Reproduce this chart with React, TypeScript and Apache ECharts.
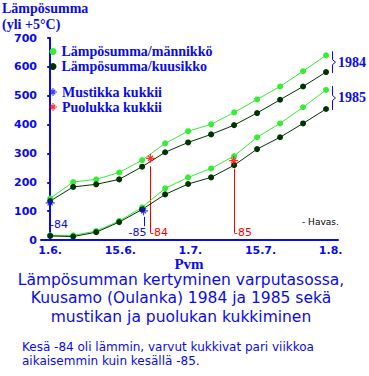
import React, { useEffect, useRef } from "react";
import * as echarts from "echarts";

// ---- data ----
const days = [0, 5, 10, 15, 20, 25, 30, 35, 40, 45, 50, 55, 60];
const mannikko84 = [144, 201, 210, 234, 277, 335, 377, 401, 442, 487, 532, 585, 640];
const kuusikko84 = [135, 184, 193, 210, 254, 304, 338, 366, 398, 440, 486, 532, 582];
const mannikko85 = [16, 16, 31, 66, 113, 179, 217, 248, 291, 356, 404, 460, 520];
const kuusikko85 = [14, 12, 27, 62, 106, 158, 194, 217, 259, 315, 356, 404, 454];

const mustikkaPoints = [
  [0, 129],
  [20.3, 101],
];
const puolukkaPoints = [
  [21.8, 283],
  [39.9, 275],
];
const flowerLabels = ["-84", "-85"];
const flowerLineEnd = [
  [52, 48],
  [25, 25],
];

const xTickDays = [0, 15.25, 30.5, 45.75, 61];
const xTickLabels = ["1.6.", "15.6.", "1.7.", "15.7.", "1.8."];
const yTicks = [0, 100, 200, 300, 400, 500, 600, 700];

const seriesNames = [
  "Lämpösumma/männikkö",
  "Lämpösumma/kuusikko",
  "Mustikka kukkii",
  "Puolukka kukkii",
];
const yearLabels = ["1984", "1985"];

const BLUE = "#0a0aee";
const LIGHT = "#33ee33";
const DARK = "#003300";
const RED = "#ff0000";
const SERIF = "'Liberation Serif', 'DejaVu Serif', serif";
const SANS = "'DejaVu Sans', sans-serif";

const ASTERISK =
  "path://M4.3,0h1.4v10h-1.4z M0,4.3h10v1.4h-10z M2.665,1.675L8.325,7.335L7.335,8.325L1.675,2.665z M1.675,7.335L7.335,1.675L8.325,2.665L2.665,8.325z";

const pair = (ys: number[]) => days.map((d, i) => [d, ys[i]]);

export default function App() {
  const ref = useRef<HTMLDivElement>(null);
  useEffect(() => {
    const chart = echarts.init(ref.current!, undefined, { renderer: "svg" });
    const lineSeries = (name: string, data: number[], color: string) => ({
      type: "line",
      name,
      data: pair(data),
      symbol: "circle",
      symbolSize: 6,
      showSymbol: true,
      lineStyle: { color, width: 1 },
      itemStyle: { color },
    });
    const option: any = {
      animation: false,
      backgroundColor: "#ffffff",
      grid: { left: 41, top: 38, right: 31, bottom: 136 },
      xAxis: {
        type: "value",
        min: -2,
        max: 62.6,
        splitLine: { show: false },
        axisLine: { lineStyle: { color: BLUE, width: 2 } },
        axisTick: { show: false },
        axisLabel: {
          customValues: xTickDays,
          formatter: (v: number) => {
            let best = 0;
            xTickDays.forEach((d, i) => {
              if (Math.abs(d - v) < Math.abs(xTickDays[best] - v)) best = i;
            });
            return xTickLabels[best];
          },
          color: BLUE,
          fontFamily: SANS,
          fontWeight: "bold",
          fontSize: 11,
          lineHeight: 10,
          margin: 5,
        },
      },
      yAxis: {
        type: "value",
        min: 0,
        max: 700,
        interval: 100,
        splitLine: { show: false },
        axisLine: { show: true, lineStyle: { color: BLUE, width: 2 } },
        axisTick: { show: true, length: 3, lineStyle: { color: BLUE, width: 2 } },
        axisLabel: {
          formatter: (v: number) => (yTicks.includes(v) ? String(v) : ""),
          color: BLUE,
          fontFamily: SANS,
          fontWeight: "bold",
          fontSize: 11,
          margin: 4,
        },
      },
      legend: [
        {
          data: [
            { name: seriesNames[0], icon: "circle" },
            { name: seriesNames[1], icon: "circle" },
          ],
          orient: "vertical",
          left: 49.5,
          top: 44,
          padding: 0,
          itemGap: 0,
          itemWidth: 7,
          itemHeight: 7,
          selectedMode: false,
          textStyle: { color: BLUE, fontFamily: SERIF, fontWeight: "bold", fontSize: 14, lineHeight: 15 },
        },
        {
          data: [
            { name: seriesNames[2], icon: ASTERISK },
            { name: seriesNames[3], icon: ASTERISK },
          ],
          orient: "vertical",
          left: 49,
          top: 84.5,
          padding: 0,
          itemGap: 0,
          itemWidth: 8,
          itemHeight: 8,
          selectedMode: false,
          textStyle: { color: BLUE, fontFamily: SERIF, fontWeight: "bold", fontSize: 14, lineHeight: 15 },
        },
      ],
      series: [
        lineSeries(seriesNames[0], mannikko84, LIGHT),
        lineSeries(seriesNames[1], kuusikko84, DARK),
        { ...lineSeries(seriesNames[0], mannikko85, LIGHT) },
        { ...lineSeries(seriesNames[1], kuusikko85, DARK) },
        {
          type: "scatter",
          name: seriesNames[2],
          data: mustikkaPoints,
          symbol: ASTERISK,
          symbolSize: 9,
          itemStyle: { color: BLUE },
          z: 5,
        },
        {
          type: "scatter",
          name: seriesNames[3],
          data: puolukkaPoints,
          symbol: ASTERISK,
          symbolSize: 9,
          itemStyle: { color: RED },
          z: 5,
        },
      ],
    };
    chart.setOption(option);

    const px = (p: number[]) => chart.convertToPixel({ gridIndex: 0 }, p) as number[];
    const graphics: any[] = [];
    const txt = (text: string, x: number, y: number, style: any, extra: any = {}) =>
      graphics.push({
        type: "text",
        x,
        y,
        style: { text, fill: BLUE, textVerticalAlign: "middle", verticalAlign: "middle", ...style },
        ...extra,
      });

    // axis name & titles
    txt("Lämpösumma", 2, 8, { font: `bold 14px ${SERIF}`, lineHeight: 14 });
    txt("(yli +5°C)", 2, 24, { font: `bold 14px ${SERIF}`, lineHeight: 14 });
    txt("Pvm", 189, 264, { font: `bold 15px ${SERIF}`, textAlign: "center", align: "center", lineHeight: 12 });
    const titleLines = [
      "Lämpösumman kertyminen varputasossa,",
      "Kuusamo (Oulanka) 1984 ja 1985 sekä",
      "mustikan ja puolukan kukkiminen",
    ];
    const titleY = [280, 298.3, 316.6];
    titleLines.forEach((t, i) =>
      txt(t, 181, titleY[i], { font: `15.5px ${SANS}`, textAlign: "center", align: "center", lineHeight: 16 })
    );
    const noteLines = [
      "Kesä -84 oli lämmin, varvut kukkivat pari viikkoa",
      "aikaisemmin kuin kesällä -85.",
    ];
    const noteY = [346.5, 361];
    noteLines.forEach((t, i) => txt(t, 22, noteY[i], { font: `12px ${SANS}`, lineHeight: 13 }));
    txt("- Havas.", 302, 222, { font: `9px ${SANS}`, fill: "#000000" });

    // year brackets
    const lastIdx = days.length - 1;
    const yearPairs = [
      [mannikko84[lastIdx], kuusikko84[lastIdx]],
      [mannikko85[lastIdx], kuusikko85[lastIdx]],
    ];
    yearPairs.forEach((pr, i) => {
      const top = px([days[lastIdx], pr[0]])[1] - 4;
      const bot = px([days[lastIdx], pr[1]])[1] + 1;
      const mid = (top + bot) / 2;
      const bx = 332.5;
      graphics.push({
        type: "polyline",
        shape: {
          points: [
            [bx, top],
            [bx, mid - 2.5],
            [bx + 3, mid],
            [bx, mid + 2.5],
            [bx, bot],
          ],
        },
        style: { stroke: BLUE, lineWidth: 1, fill: "none" },
      });
      txt(yearLabels[i], 338, mid, { font: `bold 14px ${SERIF}` });
    });

    // flowering annotations
    const flowerSets = [
      { pts: mustikkaPoints, color: BLUE, gap: 6 },
      { pts: puolukkaPoints, color: RED, gap: 8 },
    ];
    flowerSets.forEach((fs, si) => {
      fs.pts.forEach((p, i) => {
        const a = px(p);
        const endY = px([p[0], flowerLineEnd[si][i]])[1];
        const x = Math.round(a[0]) + 0.5;
        graphics.push({
          type: "line",
          shape: { x1: x, y1: a[1] + fs.gap, x2: x, y2: endY },
          style: { stroke: fs.color, lineWidth: 1 },
        });
        const isBlue85 = si === 0 && i === 1;
        if (isBlue85) {
          txt(flowerLabels[i], x + 2, endY + 6, {
            font: `11px ${SANS}`,
            fill: fs.color,
            textAlign: "right",
            align: "right",
          });
        } else {
          txt(flowerLabels[i], x - 0.5, endY, { font: `11px ${SANS}`, fill: fs.color });
        }
      });
    });

    chart.setOption({ graphic: graphics });
    return () => chart.dispose();
  }, []);
  return (
    <div
      ref={ref}
      style={{ position: "fixed", left: 0, top: 0, width: 369, height: 376, background: "#fff" }}
    />
  );
}
